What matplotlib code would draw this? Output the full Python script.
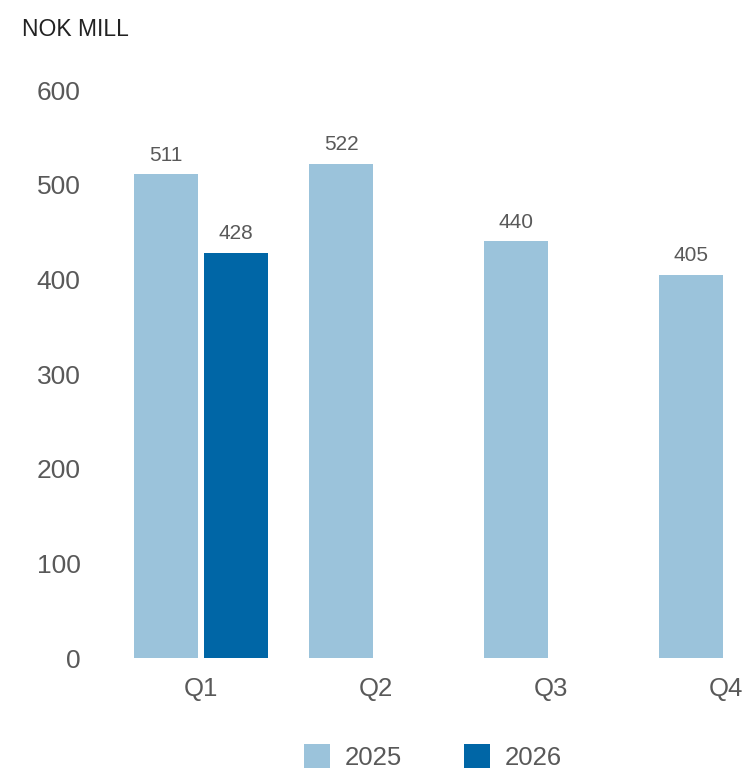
import numpy as np
import matplotlib
matplotlib.use("Agg")
import matplotlib.pyplot as plt

# === Datos ===
kvartaler = ["Q1", "Q2", "Q3", "Q4"]
verdier_2025 = [511, 522, 440, 405]
verdier_2026 = [428, None, None, None]
serier = ["2025", "2026"]
farger = ["#9BC3DB", "#0066A6"]

plt.rcParams['font.family'] = ['Liberation Sans', 'DejaVu Sans']
gra = "#595959"

fig = plt.figure(figsize=(7.43, 7.72), dpi=100)
ax = fig.add_axes([100 / 743, 114 / 772, 643 / 743, 568 / 772])

x = np.arange(len(kvartaler))
bredde = 0.37
forskyvning = 0.2

for i, (verdier, farge, navn) in enumerate(zip([verdier_2025, verdier_2026], farger, serier)):
    idx = [k for k, v in enumerate(verdier) if v is not None]
    hoyder = [verdier[k] for k in idx]
    pos = x[idx] + (i - 0.5) * 2 * forskyvning
    bars = ax.bar(pos, hoyder, width=bredde, color=farge, label=navn)
    for b, v in zip(bars, hoyder):
        ax.annotate(f"{v}", (b.get_x() + b.get_width() / 2, v),
                    xytext=(0, 7), textcoords="offset points",
                    ha="center", va="bottom", fontsize=15, color=gra,
                    annotation_clip=False)

ax.set_ylim(0, 600)
ax.set_xlim(-0.577, 3.097)
ax.set_yticks([0, 100, 200, 300, 400, 500, 600])
ax.set_xticks(x)
ax.set_xticklabels(kvartaler)
ax.tick_params(axis="y", length=0, pad=14, labelsize=19, labelcolor=gra)
ax.tick_params(axis="x", length=0, pad=14, labelsize=18.5, labelcolor=gra)
for s in ax.spines.values():
    s.set_visible(False)

fig.text(22 / 743, 1 - 29 / 772, "NOK MILL", fontsize=16.5, color="#222222",
         ha="left", va="center")

fig.legend(loc="center", bbox_to_anchor=(433 / 743, 1 - 757 / 772),
           ncol=2, frameon=False, fontsize=18.5, labelcolor=gra,
           handlelength=1.03, handleheight=1.03, handletextpad=0.57,
           columnspacing=2.4, borderpad=0)

fig.savefig("out.png", dpi=100)
